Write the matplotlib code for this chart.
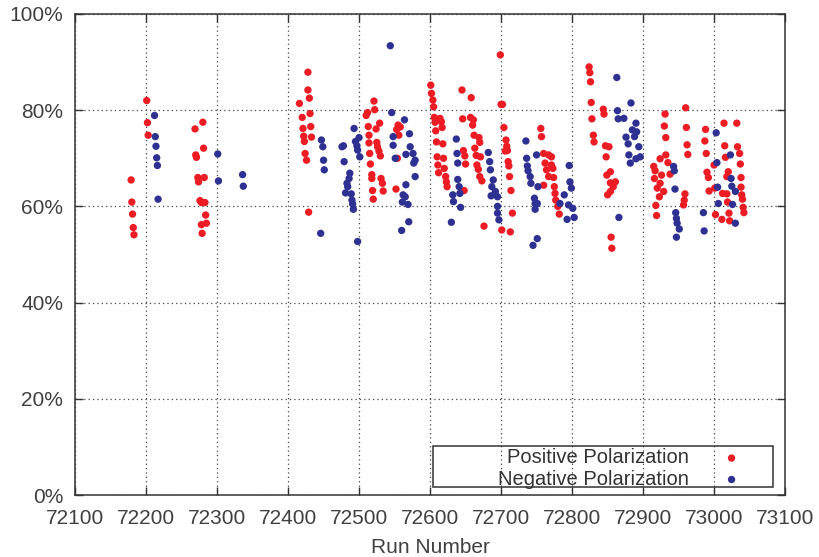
import matplotlib
matplotlib.use('Agg')
import matplotlib.pyplot as plt
from matplotlib.patches import Rectangle

# positive polarization runs / values (%)
pos_runs = [72179, 72180, 72181, 72182, 72183,
            72201, 72202, 72203,
            72269, 72270, 72271, 72280, 72281, 72273, 72282, 72274, 72276, 72278, 72283, 72284, 72285, 72278, 72279,
            72416, 72428, 72428, 72430, 72420, 72431, 72421, 72432, 72422, 72433, 72423, 72424, 72426, 72429,
            72521, 72522, 72512, 72510, 72529, 72513, 72524, 72514, 72525, 72514, 72526, 72528, 72515, 72530, 72516,
            72518, 72531, 72518, 72533, 72519, 72534, 72520,
            72555, 72558, 72553, 72556, 72554, 72552,
            72601, 72602, 72604, 72605, 72606, 72614, 72616, 72607, 72617, 72608, 72609, 72618, 72610, 72619, 72611,
            72620, 72612, 72622, 72623, 72624,
            72645, 72658, 72646, 72657, 72661, 72660, 72662, 72669, 72670, 72647, 72649, 72650, 72663, 72665, 72671,
            72666, 72668, 72670, 72673, 72648,
            72699, 72700, 72702, 72704, 72707, 72708, 72706, 72709, 72710, 72711, 72712, 72714, 72716, 72676, 72701, 72713,
            72756, 72757, 72760, 72767, 72771, 72762, 72771, 72764, 72773, 72767, 72774, 72760, 72775, 72776, 72777,
            72780, 72782,
            72824, 72825, 72826, 72827, 72844, 72845, 72828, 72830, 72831, 72847, 72852, 72848, 72854, 72849, 72861,
            72854, 72858, 72854, 72850, 72855, 72856,
            72931, 72930, 72932, 72924, 72932, 72935, 72915, 72917, 72938, 72926, 72916, 72924, 72920, 72929, 72923,
            72918, 72919,
            72960, 72961, 72962, 72963, 72959, 72958, 72957,
            72988, 72987, 72989, 72990, 72992, 72993,
            73014, 73032, 73015, 73033, 73036, 73016, 73037, 73000, 73020, 73018, 73038, 73001, 73038, 73012, 73018,
            73039, 73040, 73019, 73041, 73042, 73002, 73021, 73011, 73022]
pos_pct = [65.5, 60.9, 58.4, 55.6, 54.1,
           82.0, 77.4, 74.8,
           76.1, 70.7, 70.2, 77.5, 72.1, 66.0, 66.0, 65.1, 61.2, 60.8, 60.8, 58.2, 56.5, 56.2, 54.4,
           81.4, 87.9, 84.2, 82.5, 78.5, 79.3, 76.2, 76.6, 74.6, 74.4, 73.5, 71.0, 69.6, 58.8,
           81.9, 80.1, 79.5, 78.9, 77.3, 76.6, 76.1, 74.8, 73.3, 73.2, 72.4, 71.5, 71.0, 70.5, 68.8,
           66.6, 65.8, 65.8, 64.8, 63.3, 63.2, 61.5,
           76.9, 76.5, 76.0, 74.8, 70.0, 63.6,
           85.2, 83.5, 82.1, 80.7, 78.5, 78.3, 77.6, 77.5, 76.4, 75.7, 73.4, 73.0, 70.3, 70.0, 68.6,
           67.9, 67.0, 66.2, 65.1, 64.1,
           84.2, 82.6, 78.2, 78.5, 78.0, 76.9, 74.8, 74.3, 73.3, 71.6, 70.5, 68.8, 72.1, 70.6, 70.3,
           68.6, 67.7, 66.2, 65.3, 63.3,
           91.5, 81.2, 81.2, 76.4, 73.8, 72.5, 71.5, 71.6, 69.3, 68.4, 66.2, 63.3, 58.6, 55.9, 55.1, 54.7,
           76.2, 74.5, 71.0, 70.7, 70.3, 69.0, 68.6, 67.6, 67.9, 66.2, 66.0, 64.4, 64.1, 62.7, 61.3,
           60.0, 58.4,
           89.0, 87.8, 85.9, 81.6, 80.2, 79.2, 78.2, 74.8, 73.4, 72.6, 72.4, 70.3, 67.2, 66.5, 65.1,
           64.9, 64.1, 63.1, 62.4, 53.6, 51.3,
           79.2, 76.7, 74.3, 69.9, 70.7, 69.1, 68.3, 67.4, 66.7, 66.5, 65.8, 64.8, 63.8, 63.1, 62.0,
           60.2, 58.1,
           80.5, 76.4, 72.8, 70.8, 62.6, 61.3, 60.3,
           76.0, 73.6, 71.0, 67.1, 66.0, 63.2,
           77.3, 77.3, 72.6, 72.4, 71.0, 70.2, 68.8, 68.6, 67.2, 66.2, 66.0, 63.8, 64.0, 62.7, 62.6,
           62.4, 61.5, 60.9, 59.8, 58.7, 58.3, 58.6, 57.3, 57.0]

# negative polarization runs / values (%)
neg_runs = [72212, 72213, 72214, 72215, 72216, 72217,
            72301, 72302, 72336, 72337,
            72447, 72449, 72450, 72451, 72446,
            72476, 72478, 72479, 72493, 72500, 72495, 72497, 72498, 72501, 72487, 72486, 72483, 72484, 72481, 72489,
            72490, 72491, 72492, 72498,
            72544, 72546, 72564, 72571, 72548, 72548, 72572, 72566, 72576, 72579, 72577, 72551, 72579, 72566, 72562,
            72565, 72561, 72569, 72570, 72560,
            72637, 72638, 72639, 72639, 72641, 72642, 72632, 72633, 72643, 72630,
            72682, 72684, 72685, 72689, 72687, 72692, 72686, 72695, 72695, 72695, 72697,
            72735, 72736, 72737, 72738, 72741, 72742, 72752, 72750, 72747, 72748, 72751, 72748, 72751, 72745,
            72796, 72797, 72799, 72789, 72783, 72795, 72801, 72793, 72803,
            72863, 72883, 72864, 72865, 72873, 72890, 72885, 72891, 72888, 72876, 72879, 72894, 72880, 72896, 72890,
            72882, 72866,
            72943, 72944, 72945, 72946, 72947, 72948, 72951, 72947,
            73003, 73023, 73004, 73024, 73025, 73030, 73005, 73006, 73026, 72985, 72986, 73030]
neg_pct = [78.9, 74.5, 72.5, 70.1, 68.5, 61.5,
           70.9, 65.3, 66.6, 64.2,
           73.8, 72.4, 69.6, 67.6, 54.4,
           72.4, 72.6, 69.3, 76.2, 74.3, 73.5, 72.6, 71.7, 70.3, 66.9, 65.8, 64.8, 64.1, 62.8, 62.6,
           61.3, 60.5, 59.4, 52.7,
           93.4, 79.5, 78.0, 75.1, 74.5, 72.7, 72.4, 70.8, 71.0, 69.6, 69.0, 70.0, 66.2, 64.5, 62.4,
           62.0, 60.9, 60.4, 56.8, 55.0,
           74.0, 71.0, 69.0, 65.6, 64.1, 62.7, 62.4, 61.0, 59.8, 56.7,
           71.2, 69.3, 67.6, 65.5, 64.1, 63.1, 62.2, 62.0, 60.0, 58.6, 57.2,
           73.6, 70.0, 68.4, 67.4, 66.2, 64.8, 64.1, 70.7, 61.7, 60.6, 60.6, 59.4, 53.3, 51.9,
           68.5, 65.1, 63.8, 62.4, 60.6, 60.3, 59.6, 57.3, 57.7,
           86.8, 81.5, 79.9, 78.2, 78.3, 77.3, 75.9, 75.5, 74.5, 74.4, 73.0, 72.4, 70.7, 70.3, 69.9,
           69.0, 57.7,
           68.3, 67.4, 63.6, 58.7, 57.5, 56.5, 55.3, 53.6,
           75.3, 70.7, 69.1, 65.8, 64.2, 63.1, 64.0, 60.6, 60.4, 58.7, 54.9, 56.5]

x_ticks = list(range(72100, 73101, 100))
y_ticks = [0, 20, 40, 60, 80, 100]

plt.rcParams['font.family'] = ['Liberation Sans', 'DejaVu Sans']
plt.rcParams['font.size'] = 15

fig = plt.figure(figsize=(8.2, 5.57), dpi=100)
ax = fig.add_axes([0.0915, 0.1113, 0.8659, 0.8636])

ax.scatter(pos_runs, pos_pct, s=28, color='#ec1c24', edgecolors='none', label='Positive Polarization', zorder=3)
ax.scatter(neg_runs, neg_pct, s=28, color='#2e3192', edgecolors='none', label='Negative Polarization', zorder=3)

ax.set_xlim(72100, 73100)
ax.set_ylim(0, 100)
ax.set_xticks(x_ticks)
ax.set_yticks(y_ticks)
ax.set_yticklabels([f'{v}%' for v in y_ticks])
ax.grid(True, linestyle=(0, (1, 2.5)), color='#444444', linewidth=0.9)
ax.tick_params(direction='in', top=True, right=True, length=6, width=1, colors='#333333',
               labelcolor='#404040')
ax.tick_params(axis='x', pad=10)
ax.tick_params(axis='y', pad=8.5)
for sp in ax.spines.values():
    sp.set_color('#333333')
    sp.set_linewidth(1.1)
ax.set_xlabel('Run Number', color='#404040', labelpad=7)

# legend, gnuplot-like (labels right aligned, symbol on the right)
leg = ax.legend(loc='lower right', bbox_to_anchor=(0.953, -0.008), markerfirst=False, frameon=False,
                borderpad=0, handlelength=1.0, handletextpad=1.6, labelspacing=0.12, scatterpoints=1,
                prop={'size': 14.5})
for t in leg.get_texts():
    t.set_color('#333333')
ax.add_patch(Rectangle((0.504, 0.0166), 0.479, 0.0856, transform=ax.transAxes, fill=False,
                       edgecolor='#333333', linewidth=1.1, zorder=4))

fig.savefig('out.png', dpi=100)
plt.close(fig)
